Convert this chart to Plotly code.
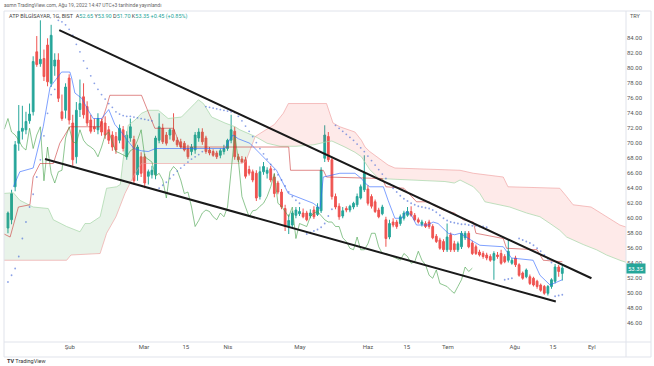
import plotly.graph_objects as go

# ---------------- daily candles (bar 0 = first visible session, Jan 2022) ----------------
opens = [58.7, 59.8, 64.2, 70.0, 71.6, 71.8, 73.0, 74.2, 82.2, 80.6,
         81.3, 83.1, 78.0, 80.3, 81.1, 74.2, 74.4, 78.7, 72.7, 68.2,
         74.5, 76.2, 74.9, 73.1, 72.2, 71.8, 72.9, 72.7, 71.8, 71.1,
         70.9, 70.4, 71.8, 68.2, 70.7, 70.5, 65.8, 68.2, 68.2, 65.6,
         65.8, 65.8, 70.4, 72.0, 71.1, 71.1, 71.8, 70.4, 70.2, 70.0,
         69.3, 68.9, 69.1, 70.7, 71.5, 70.7, 69.1, 68.9, 68.7, 68.4,
         68.9, 69.3, 70.4, 71.6, 68.2, 67.9, 67.8, 66.5, 66.2, 66.0,
         62.9, 66.2, 66.0, 66.6, 65.5, 64.7, 63.5, 61.3, 58.9, 59.1,
         60.4, 60.6, 60.7, 60.7, 60.3, 61.1, 60.5, 61.0, 68.0, 70.9,
         67.8, 62.9, 61.6, 60.3, 61.3, 61.1, 61.5, 61.8, 62.7, 63.8,
         63.9, 62.9, 62.2, 61.1, 60.6, 59.8, 57.5, 59.5, 59.5, 59.3,
         60.0, 60.4, 60.9, 60.4, 59.8, 59.2, 59.3, 59.5, 58.9, 57.6,
         57.1, 56.9, 55.8, 57.8, 56.6, 55.8, 56.2, 57.4, 58.0, 56.7,
         56.2, 55.5, 55.3, 55.1, 54.9, 54.4, 55.1, 55.3, 54.9, 54.4,
         54.0, 54.7, 53.8, 52.7, 52.2, 52.2, 52.0, 51.6, 51.1, 50.9,
         50.0, 50.9, 51.6, 53.5, 52.65]
highs = [60.9, 63.8, 70.3, 75.1, 75.0, 74.2, 75.3, 81.6, 84.3, 86.4,
         82.5, 84.0, 85.8, 82.0, 82.0, 76.5, 78.0, 79.2, 73.8, 75.5,
         78.5, 78.0, 75.6, 73.8, 73.3, 74.0, 73.3, 73.6, 72.3, 71.6,
         71.5, 72.5, 72.3, 71.6, 73.3, 71.0, 69.8, 68.8, 68.6, 66.5,
         67.0, 71.0, 74.0, 72.6, 71.5, 72.0, 74.0, 70.8, 70.6, 70.3,
         69.8, 69.9, 71.5, 72.0, 72.0, 71.0, 69.5, 69.2, 69.0, 69.3,
         69.8, 70.6, 73.8, 72.2, 68.6, 68.3, 68.2, 67.0, 66.5, 66.4,
         66.9, 67.5, 66.8, 67.0, 65.9, 65.0, 63.9, 61.8, 60.5, 61.0,
         61.5, 61.5, 61.3, 61.0, 61.2, 61.6, 62.0, 66.8, 72.4, 71.5,
         68.2, 63.3, 62.0, 61.5, 61.6, 61.8, 62.2, 63.3, 64.5, 68.4,
         64.4, 63.2, 62.5, 61.4, 61.8, 60.2, 59.8, 60.0, 59.8, 60.5,
         61.0, 61.5, 61.6, 60.7, 60.1, 59.8, 59.6, 59.8, 59.2, 57.9,
         57.4, 57.2, 59.3, 58.1, 57.0, 56.9, 58.3, 58.3, 58.3, 57.0,
         56.5, 55.8, 55.6, 55.4, 55.2, 55.6, 55.5, 55.8, 55.2, 57.2,
         54.7, 55.0, 54.0, 52.9, 53.3, 52.5, 52.2, 51.8, 51.3, 51.1,
         51.1, 52.0, 53.9, 53.8, 53.9]
lows = [58.0, 59.2, 63.6, 69.0, 70.5, 71.2, 72.6, 73.7, 80.2, 80.2,
        78.3, 77.6, 77.5, 79.0, 75.5, 73.0, 73.3, 72.5, 67.0, 67.3,
        73.5, 73.3, 72.3, 71.3, 71.5, 71.2, 71.0, 70.6, 69.9, 69.0,
        68.6, 70.0, 68.9, 67.8, 70.2, 64.5, 65.0, 65.5, 64.0, 64.5,
        65.3, 65.2, 70.0, 69.9, 69.7, 70.5, 70.2, 69.5, 69.3, 68.9,
        67.9, 68.4, 68.6, 70.2, 69.8, 68.6, 68.4, 68.2, 67.9, 68.0,
        68.5, 69.0, 70.0, 67.8, 67.5, 67.3, 65.3, 65.7, 64.8, 62.3,
        62.5, 65.8, 65.3, 64.8, 62.8, 63.2, 61.2, 58.3, 57.9, 58.7,
        60.0, 60.3, 60.0, 59.6, 60.0, 59.9, 60.3, 60.7, 67.5, 67.5,
        62.5, 61.2, 59.8, 60.0, 60.8, 60.8, 61.2, 61.5, 62.5, 63.5,
        61.7, 61.3, 60.7, 60.0, 60.4, 56.2, 57.2, 58.8, 58.6, 59.0,
        59.7, 60.2, 60.2, 59.6, 59.3, 58.9, 58.7, 58.6, 57.2, 56.7,
        55.8, 55.5, 55.5, 55.5, 55.5, 55.5, 55.9, 57.1, 56.0, 55.1,
        55.1, 54.9, 54.6, 54.4, 54.2, 51.8, 54.6, 53.8, 54.0, 54.1,
        53.8, 53.5, 52.2, 51.8, 52.0, 51.1, 50.9, 50.6, 50.2, 49.8,
        49.7, 50.6, 51.3, 52.2, 51.7]
closes = [60.7, 63.3, 69.8, 71.6, 72.0, 72.9, 73.9, 80.9, 80.5, 81.2,
          78.9, 78.2, 84.4, 81.1, 76.0, 73.3, 77.5, 73.1, 67.8, 74.4,
          75.3, 73.8, 72.7, 71.6, 71.9, 73.3, 71.5, 71.1, 70.4, 69.5,
          69.1, 72.0, 69.3, 71.1, 72.2, 65.0, 69.5, 66.0, 64.7, 66.2,
          66.4, 70.7, 72.2, 70.2, 70.0, 71.8, 70.4, 69.8, 69.5, 69.1,
          68.2, 69.5, 71.1, 71.5, 70.2, 68.9, 68.7, 68.4, 68.2, 69.0,
          69.3, 70.4, 71.8, 68.2, 67.8, 67.5, 65.6, 66.0, 65.1, 62.7,
          66.2, 66.9, 66.4, 65.1, 63.3, 63.5, 61.5, 58.9, 59.7, 60.7,
          61.1, 60.9, 60.2, 59.8, 60.7, 60.2, 61.5, 66.4, 71.1, 67.8,
          62.9, 61.5, 60.2, 61.0, 61.1, 61.6, 62.0, 62.9, 64.2, 66.0,
          62.0, 61.6, 60.9, 60.2, 61.5, 57.3, 59.3, 59.1, 58.9, 60.2,
          60.7, 60.9, 60.4, 59.8, 59.5, 59.5, 58.9, 58.9, 57.4, 56.9,
          56.0, 55.8, 57.5, 55.8, 55.8, 56.6, 58.0, 58.0, 56.2, 55.3,
          55.3, 55.1, 54.9, 54.7, 54.4, 55.3, 54.9, 54.0, 54.2, 55.6,
          54.4, 53.8, 52.4, 52.0, 53.1, 51.3, 51.1, 50.9, 50.4, 50.0,
          50.9, 51.8, 53.5, 52.9, 53.35]

# ---------------- Ichimoku lines (bar index, price) ----------------
tenkan_x = [1.5, 3.3, 7, 8.4, 9.8, 11.7, 14.9, 17.2, 17.7, 18.6, 20.5, 22.3, 23.7, 26, 28,
            29.7, 31.5, 33, 35, 37, 39, 41, 60.3, 61.5, 62.5, 64, 67.2, 70.9, 74.6, 77.9,
            80.2, 84.8, 86.7, 87.6, 92.2, 96.4, 98.2, 99.2, 100.5, 104.3, 105.6, 107.5,
            109.4, 110.7, 112.1, 113.5, 116.7, 118.1, 119.5, 122.3, 124.1, 125.6, 129.3,
            131.1, 137.6, 139.9, 145.9, 147.8, 150.6, 154]
tenkan_y = [64.2, 66.2, 66.7, 69.3, 72.2, 77.5, 79.5, 79.5, 78.7, 76.7, 76.0, 74.4, 73.3, 73.3, 74.5,
            72.5, 71.5, 70.5, 69.3, 69.0, 68.9, 69.3, 69.3, 70.4, 71.1, 70.6, 70.0, 68.2, 66.4, 63.3,
            62.9, 62.0, 61.3, 65.5, 66.0, 66.0, 65.3, 64.7, 64.2, 64.2, 62.4, 60.0,
            60.0, 60.9, 60.4, 59.1, 59.1, 59.5, 59.3, 58.0, 57.8, 58.0, 56.9,
            56.4, 56.2, 54.7, 54.4, 52.4, 51.1, 51.8]

kijun_x = [-1.5, 0.6, 2.9, 6.1, 7, 8.9, 12.6, 13.5, 14.4, 17.2, 25.6, 27.4, 28.3, 37.1, 39,
           40.8, 46, 48, 78, 78.5, 87.6, 88.5, 104, 105, 110, 113.5, 117, 118, 121, 124,
           126.5, 129.3, 130, 137.6, 138.5, 147, 148.7, 154]
kijun_y = [58.0, 57.5, 61.5, 61.8, 65.5, 67.3, 67.3, 68.7, 70.0, 72.2, 72.2, 74.9, 76.4, 76.4, 74.2,
           72.0, 72.0, 69.5, 69.5, 66.4, 66.4, 65.5, 65.3, 64.2, 64.0, 62.2, 62.2, 61.8, 61.1, 60.7,
           59.8, 59.5, 58.0, 57.3, 56.0, 55.8, 54.4, 54.2]

span_a_x = [-1.5, 1.5, 3.3, 7, 11.2, 12.6, 16.3, 20, 21.4, 22.8, 25.6, 27.4, 30.2, 31.2, 32,
            33.4, 35.3, 37.1, 39, 41.8, 44.5, 48.2, 51.9, 52.9, 54.3, 56.6, 60.3, 63.1, 64.4,
            66, 68.7, 72, 75.6, 80, 85, 88.5, 90, 93.6, 96.4, 98.2, 100.5, 103, 113, 121.4,
            124, 125.6, 129.3, 131.1, 132.5, 139.4, 144.1, 147.8, 150.6, 153.3, 155.2, 157.9,
            159.8, 163.5, 166.3, 170, 172.5]
span_a_y = [63.3, 63.4, 62.4, 61.5, 61.3, 59.8, 58.9, 58.2, 59.3, 59.3, 60.2, 64.0, 64.2, 64.5, 67.8,
            72.4, 73.1, 74.0, 74.4, 74.4, 73.3, 73.5, 75.3, 75.8, 75.3, 73.5, 72.7, 72.2, 71.8,
            71.5, 70.9, 70.0, 69.6, 69.6, 69.8, 70.2, 70.3, 69.5, 68.8, 68.2, 66.5, 65.3, 65.1, 64.9,
            64.7, 65.1, 64.2, 63.3, 62.2, 61.5, 60.7, 60.2, 59.3, 58.4, 57.5, 56.9,
            56.5, 55.8, 55.1, 54.4, 54.0]
span_b_x = [-1.5, 16.3, 17.5, 25.6, 27.4, 30, 32.5, 35.3, 37.1, 64, 66, 68.7, 70, 74, 76.5,
            77.9, 88.5, 89.4, 90.3, 92.2, 93.6, 96.4, 98.2, 99.2, 100.5, 102.9, 105.6, 107.5,
            125.6, 129.3, 137.6, 138.9, 153.3, 155.2, 157, 162, 166.3, 170, 172.5]
span_b_y = [54.4, 54.4, 55.1, 55.3, 58.0, 60.2, 63.3, 66.0, 67.3, 67.3, 67.5, 70.9, 71.3, 72.5, 74.0,
            75.3, 75.3, 74.0, 72.7, 72.2, 72.0, 71.5, 70.4, 69.5, 68.9, 68.0, 67.1, 66.7,
            66.4, 66.0, 65.5, 64.2, 64.0, 62.9, 61.8, 61.5, 60.2, 59.1, 58.7]
cloud_cross = 68.7      # bar where span A and span B cross
lag_shift = 25          # lagging span drawn 25 bars back

# ---------------- Parabolic SAR dots (bar index, price) ----------------
sar_x = list(range(0, 14)) + list(range(14, 41)) + list(range(42, 55)) + list(range(55, 82)) \
    + list(range(83, 91)) + list(range(91, 134)) + [138, 139, 140] + list(range(142, 152)) + [152, 153, 154]
sar_y = [51.5, 52.4, 53.3, 54.9, 57.3, 59.5, 61.5, 63.2, 65.5, 67.8, 71.0, 74.0, 76.5, 77.2,
         86.4, 86.2, 85.8, 85.2, 84.4, 83.2, 82.2, 81.0, 80.0, 79.0, 78.0, 77.2, 76.5, 75.9, 75.3,
         74.8, 74.2, 73.9, 73.7, 73.6, 73.6, 73.5, 73.4, 73.3, 73.2, 73.1, 73.0,
         64.0, 64.4, 64.8, 65.3, 65.8, 66.3, 66.7, 67.1, 67.5, 67.9, 68.2, 68.5, 68.9,
         74.9, 74.8, 74.7, 74.6, 74.5, 74.4, 74.3, 74.2, 74.1, 73.6, 73.0, 72.3, 71.6, 70.9,
         70.1, 69.3, 68.6, 67.9, 67.2, 66.5, 65.8, 65.1, 64.3, 63.5, 62.9, 62.4, 62.0,
         57.9, 58.1, 58.3, 58.5, 58.8, 59.3, 60.3, 61.2,
         72.4, 72.0, 71.6, 71.2, 70.8, 70.4, 69.9, 69.4, 68.9, 68.3, 67.7, 67.1, 66.5, 65.9,
         65.3, 64.6, 64.0, 63.5, 63.0, 62.6, 62.3, 62.0, 61.8, 61.6, 61.5, 61.4, 61.3, 61.1,
         60.8, 60.4, 60.0, 59.7, 59.5, 59.4, 59.3, 59.2, 59.2, 59.1, 59.0, 59.0, 58.9, 58.9, 58.8,
         51.8, 51.9, 52.0,
         57.3, 57.1, 56.9, 56.7, 56.4, 56.0, 55.6, 55.1, 54.6, 54.1,
         49.6, 49.7, 49.8]

# ---------------- hand-drawn trend lines ----------------
upper_line_x = [14.25, 162.1]
upper_line_y = [85.1, 52.0]
lower_line_x = [10.3, 152.2]
lower_line_y = [67.9, 48.9]

# ---------------- axis labels ----------------
month_tick_pos = [17.2, 37.8, 49.4, 61.1, 81.1, 100, 110.8, 122.2, 140.8, 151.4, 162.2]
month_tick_text = ["Şub", "Mar", "15", "Nis", "May", "Haz", "15", "Tem", "Ağu", "15", "Eyl"]
price_ticks = [46, 48, 50, 52, 54, 56, 58, 60, 62, 64, 66, 68, 70, 72, 74, 76, 78, 80, 82, 84]

last_close = closes[-1]

bars = list(range(len(closes)))
fig = go.Figure()

# cloud fills
ga = [(x, y) for x, y in zip(span_a_x, span_a_y) if x <= cloud_cross]
gb = [(x, y) for x, y in zip(span_b_x, span_b_y) if x <= cloud_cross][::-1]
pb = [(x, y) for x, y in zip(span_b_x, span_b_y) if x >= cloud_cross]
pa = [(x, y) for x, y in zip(span_a_x, span_a_y) if x >= cloud_cross][::-1]
for pts, col in ((ga + gb, "rgba(67,160,71,0.12)"), (pb + pa, "rgba(244,67,54,0.11)")):
    fig.add_trace(go.Scatter(x=[p[0] for p in pts], y=[p[1] for p in pts], fill="toself",
                             fillcolor=col, mode="lines", line=dict(width=0),
                             hoverinfo="skip", showlegend=False))
fig.add_trace(go.Scatter(x=span_a_x, y=span_a_y, mode="lines",
                         line=dict(color="#A5D6A7", width=1), opacity=0.7, showlegend=False))
fig.add_trace(go.Scatter(x=span_b_x, y=span_b_y, mode="lines",
                         line=dict(color="#EF9A9A", width=1), opacity=0.6, showlegend=False))

# candles
fig.add_trace(go.Candlestick(
    x=bars, open=opens, high=highs, low=lows, close=closes,
    increasing=dict(line=dict(color="#26a69a", width=1), fillcolor="#26a69a"),
    decreasing=dict(line=dict(color="#ef5350", width=1), fillcolor="#ef5350"),
    whiskerwidth=0, showlegend=False))

# lagging span, base line, conversion line
fig.add_trace(go.Scatter(x=[b - lag_shift for b in bars], y=closes, mode="lines",
                         line=dict(color="#43A047", width=1), opacity=0.6, showlegend=False))
fig.add_trace(go.Scatter(x=kijun_x, y=kijun_y, mode="lines",
                         line=dict(color="#C62828", width=1), opacity=0.55, showlegend=False))
fig.add_trace(go.Scatter(x=tenkan_x, y=tenkan_y, mode="lines",
                         line=dict(color="#2962FF", width=1), opacity=0.6, showlegend=False))

# parabolic SAR
fig.add_trace(go.Scatter(x=sar_x, y=sar_y, mode="markers",
                         marker=dict(color="#3F64D8", size=1.8), opacity=0.6, showlegend=False))

# trend lines
for lx, ly in ((upper_line_x, upper_line_y), (lower_line_x, lower_line_y)):
    fig.add_trace(go.Scatter(x=lx, y=ly, mode="lines",
                             line=dict(color="#1a1a1a", width=2), showlegend=False))

FONT = "Roboto, Arial, sans-serif"
fig.update_layout(
    width=654, height=366,
    margin=dict(l=4, r=28, t=11, b=24),
    paper_bgcolor="white", plot_bgcolor="white",
    font=dict(family=FONT, size=6, color="#555"),
    showlegend=False,
    hovermode=False,
    xaxis=dict(range=[-1.1, 171.7], rangeslider=dict(visible=False), showgrid=False,
               zeroline=False, tickmode="array", tickvals=month_tick_pos,
               ticktext=month_tick_text, ticks="", tickfont=dict(size=6, color="#555"),
               showline=False),
    yaxis=dict(range=[43.5, 87.64], side="right", showgrid=False, zeroline=False,
               tickmode="array", tickvals=price_ticks,
               ticktext=[f"{v:.2f}" for v in price_ticks], ticks="",
               tickfont=dict(size=6, color="#555"), showline=False),
    shapes=[
        dict(type="rect", xref="paper", yref="paper", x0=0, x1=1.0402, y0=-0.0453, y1=1.0,
             line=dict(color="#e0e3eb", width=1)),
        dict(type="line", xref="paper", yref="paper", x0=1, x1=1, y0=-0.0453, y1=1.0,
             line=dict(color="#e0e3eb", width=1)),
        dict(type="line", xref="paper", yref="paper", x0=0, x1=1.0402, y0=0, y1=0,
             line=dict(color="#e0e3eb", width=1)),
    ],
    annotations=[
        dict(xref="paper", yref="paper", x=-0.004, y=1.018, xanchor="left", yanchor="middle",
             showarrow=False, font=dict(size=5, color="#666"),
             text="asmn TradingView.com, Ağu 19, 2022 14:47 UTC+3 tarihinde yayınlandı"),
        dict(xref="paper", yref="paper", x=0.005, y=0.982, xanchor="left", yanchor="middle",
             showarrow=False, font=dict(size=5.5, color="#444"),
             text=("ATP BİLGİSAYAR, 1G, BIST  "
                   "A<span style='color:#26a69a'>52.65</span> "
                   "Y<span style='color:#26a69a'>53.90</span> "
                   "D<span style='color:#26a69a'>51.70</span> "
                   "K<span style='color:#26a69a'>53.35</span> "
                   "<span style='color:#26a69a'>+0.45 (+0.85%)</span>")),
        dict(xref="paper", yref="paper", x=1.016, y=0.985, xanchor="center", yanchor="middle",
             showarrow=False, font=dict(size=5.5, color="#555"), text="TRY"),
        dict(xref="paper", yref="y", x=1.0, y=last_close, xanchor="left", yanchor="middle",
             showarrow=False, bgcolor="#26a69a", borderpad=1,
             font=dict(size=6, color="white"), text=f"{last_close:.2f}"),
        dict(xref="paper", yref="paper", x=0.002, y=-0.057, xanchor="left", yanchor="middle",
             showarrow=False, font=dict(size=5.5, color="#333"),
             text="<b>TV</b> TradingView"),
    ],
)

fig.write_html("out.html", config={"displayModeBar": False, "staticPlot": True},
               post_script="document.body.style.margin='0';document.body.style.overflow='hidden';")
